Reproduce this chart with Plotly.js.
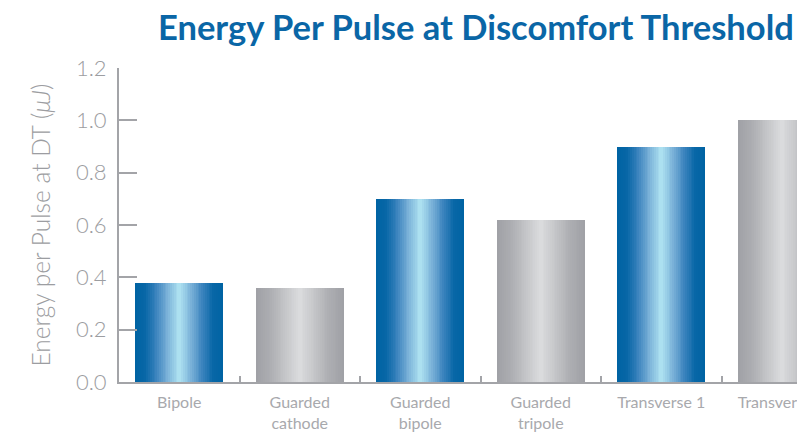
<!DOCTYPE html>
<html>
<head>
<meta charset="utf-8">
<script src="https://cdn.plot.ly/plotly-3.0.1.min.js"></script>
<style>html,body{margin:0;padding:0;background:#fff;}#chart{width:797px;height:433px;}</style>
</head>
<body>
<div id="chart"></div>
<script>
// Data
const categories = ["Bipole", "Guarded<br>cathode", "Guarded<br>bipole", "Guarded<br>tripole", "Transverse 1", "Transverse 2"];
const energy = [0.38, 0.36, 0.70, 0.62, 0.90, 1.00];
const barStyle = ["blue", "gray", "blue", "gray", "blue", "gray"];
const yTicks = [0, 0.2, 0.4, 0.6, 0.8, 1.0, 1.2];

// Gradient stops (t: 0 edge -> 1 centre)
const blueStops = [[0, [0, 99, 163]], [0.22, [8, 103, 167]], [0.48, [60, 132, 190]], [0.72, [118, 174, 214]], [1, [172, 224, 240]]];
const grayStops = [[0, [160, 161, 166]], [0.35, [174, 175, 179]], [0.7, [198, 199, 202]], [1, [218, 219, 221]]];
function interp(stops, t) {
  for (let i = 1; i < stops.length; i++) {
    if (t <= stops[i][0]) {
      const [t0, c0] = stops[i - 1], [t1, c1] = stops[i];
      const f = (t - t0) / (t1 - t0);
      return "rgb(" + c0.map((v, j) => Math.round(v + (c1[j] - v) * f)).join(",") + ")";
    }
  }
  const c = stops[stops.length - 1][1];
  return "rgb(" + c.join(",") + ")";
}

const baseWidth = 0.73;
const layers = 24;
const traces = [];
for (let k = 0; k < layers; k++) {
  const t = k / (layers - 1);
  const w = baseWidth * (1 - k / layers);
  traces.push({
    type: "bar",
    x: categories,
    y: energy,
    width: w,
    marker: {color: barStyle.map(s => interp(s === "blue" ? blueStops : grayStops, t)), line: {width: 0}},
    hoverinfo: k === 0 ? "x+y" : "skip",
    showlegend: false
  });
}

const axisGray = "#a3a4a8";
const layout = {
  width: 797, height: 433,
  margin: {l: 119, r: 0, t: 68, b: 51},
  paper_bgcolor: "#fff", plot_bgcolor: "#fff",
  barmode: "overlay",
  bargap: 0,
  title: {
    text: "<b>Energy Per Pulse at Discomfort Threshold</b>",
    font: {family: "Lato, 'Open Sans', sans-serif", size: 34.5, color: "#0a66a6"},
    xref: "container", yref: "container",
    x: 158 / 797, xanchor: "left",
    y: 1 - 28 / 433, yanchor: "middle"
  },
  xaxis: {
    type: "category",
    range: [-0.5, -0.5 + (797 - 119) / 120.5],
    showline: true, linecolor: axisGray, linewidth: 2,
    ticks: "inside", tickson: "boundaries", ticklen: 6, tickwidth: 2, tickcolor: axisGray,
    tickfont: {family: "Lato, sans-serif", size: 16, color: "#a8a9ad"},
    ticklabelstandoff: 5,
    showgrid: false, zeroline: false, fixedrange: true
  },
  yaxis: {
    range: [0, 1.2],
    tickvals: yTicks,
    ticktext: yTicks.map(v => v.toFixed(1)),
    showline: true, linecolor: axisGray, linewidth: 2,
    ticks: "inside", ticklen: 18, tickwidth: 2, tickcolor: axisGray,
    tickfont: {family: "Lato, sans-serif", size: 22, color: "#9c9da1", weight: 300},
    ticklabelstandoff: 6,
    showgrid: false, zeroline: false, fixedrange: true,
    title: {
      text: "Energy per Pulse at DT (<i>μJ</i>)",
      font: {family: "Lato, sans-serif", size: 24.5, color: "#9c9da1", weight: 300},
      standoff: 18
    }
  }
};

Plotly.newPlot("chart", traces, layout, {displayModeBar: false, staticPlot: true});
</script>
</body>
</html>
